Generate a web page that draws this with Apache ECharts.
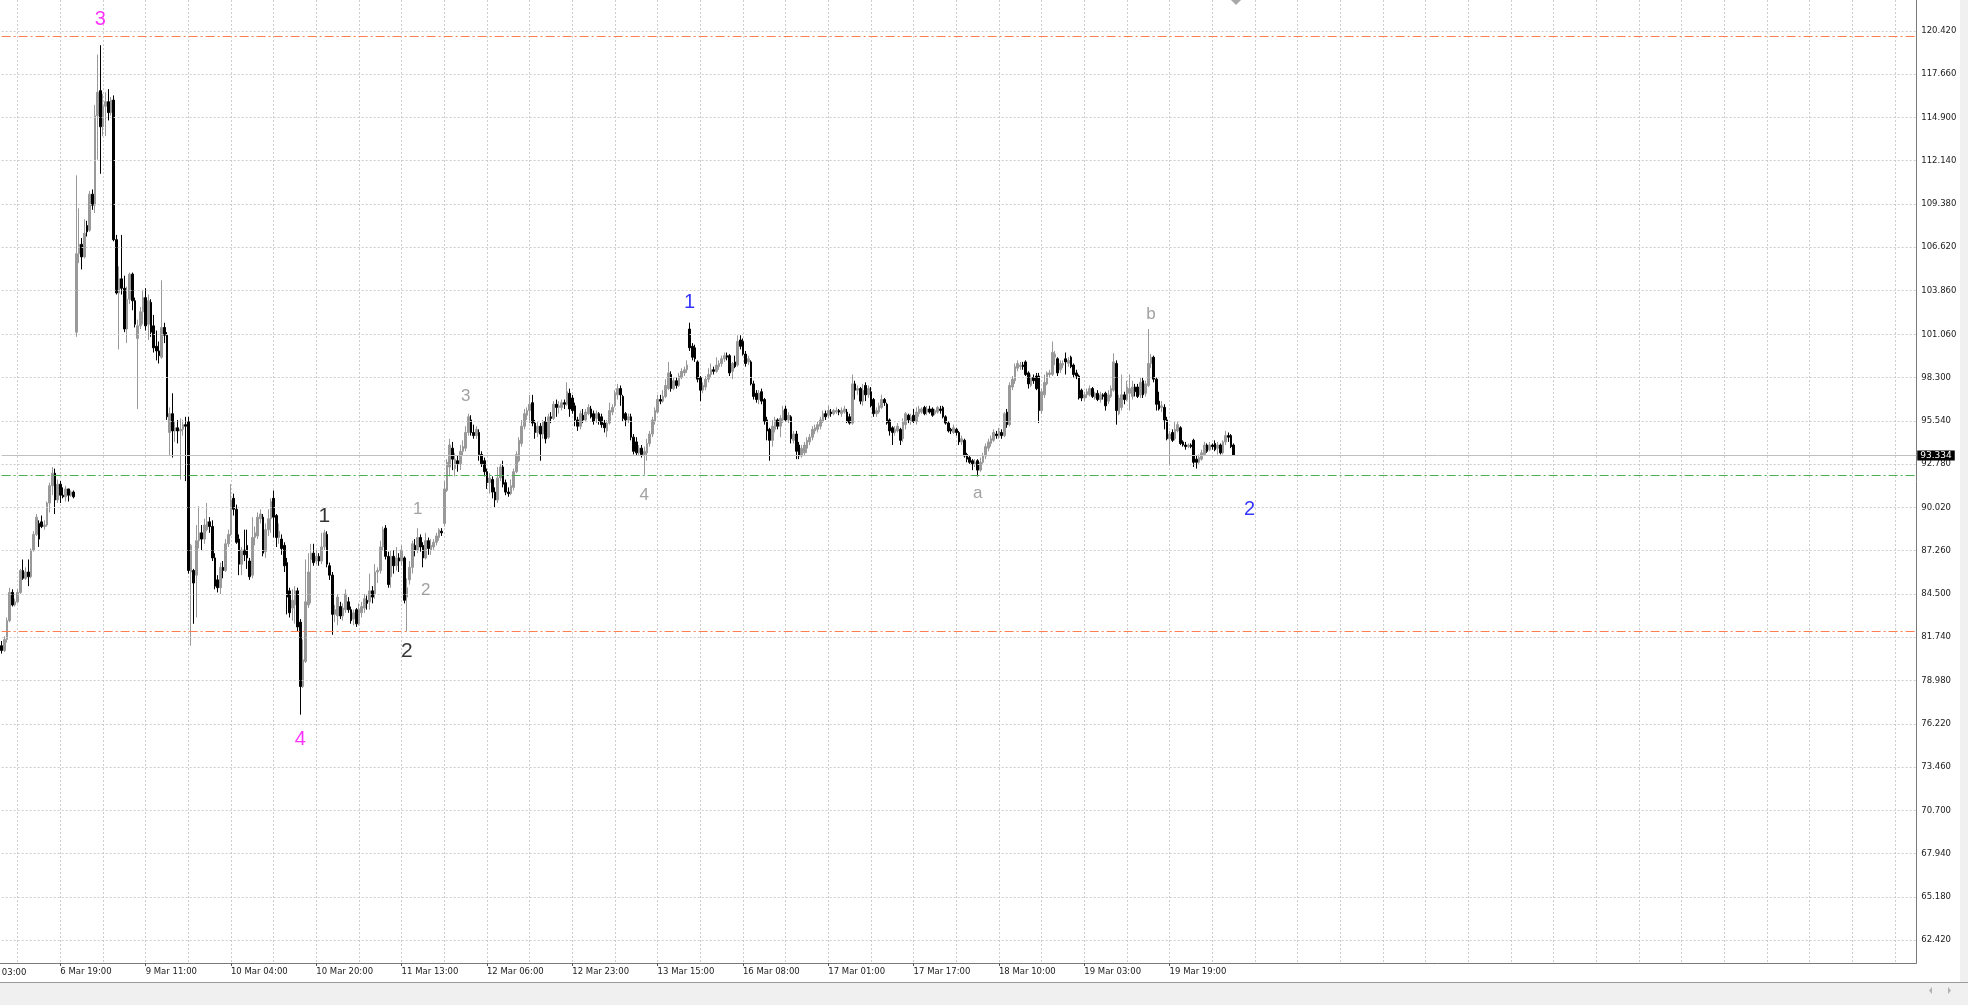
<!DOCTYPE html>
<html><head><meta charset="utf-8">
<script src="https://cdn.jsdelivr.net/npm/echarts@6/dist/echarts.min.js"></script>
<style>html,body{margin:0;padding:0;background:#fff;overflow:hidden}#c{width:1968px;height:1005px}</style>
</head><body><div id="c"></div>
<script>
// ---- tick labels ----
const xTickLabels = ['6 Mar 03:00','6 Mar 19:00','9 Mar 11:00','10 Mar 04:00','10 Mar 20:00','11 Mar 13:00','12 Mar 06:00','12 Mar 23:00','13 Mar 15:00','16 Mar 08:00','17 Mar 01:00','17 Mar 17:00','18 Mar 10:00','19 Mar 03:00','19 Mar 19:00'];
const yTickLabels = ['120.420','117.660','114.900','112.140','109.380','106.620','103.860','101.060','98.300','95.540','92.780','90.020','87.260','84.500','81.740','78.980','76.220','73.460','70.700','67.940','65.180','62.420'];
const barsPerLabel = 32;      // M30 bars between two time labels
const barsPerGridLine = 16;
const firstLabelOffset = -10; // '6 Mar 03:00' sits 10 bars before the first visible bar (6 Mar 08:00)
const slotCount = 719;        // bars + empty space on the right (chart shift)
const yMin = 60.964, yMax = 122.384;

// ---- horizontal levels ----
const orangeLevels = [120.10, 82.12];
const greenLevels = [92.07];
const lastPrice = 93.334;

// ---- M30 bars: [open, close, low, high] ----
const bars_0306_0800 = [[81.2,80.9,80.7,81.5],[80.9,81.6,80.8,81.8],[81.6,82.8,81.4,83.0],[82.8,84.6,82.7,84.9],[84.6,83.8,83.7,84.8],[83.8,84.0,83.7,84.2],[84.0,84.6,83.9,84.8],[84.6,86.0,84.5,86.1],[86.0,85.5,85.4,86.7],[85.5,85.9,85.4,86.2],[85.9,85.6,85.0,86.7],[85.6,87.3,85.5,87.4],[87.3,88.3,87.2,88.5],[88.3,89.4,88.2,89.6],[89.0,88.0,87.5,89.2],[89.1,88.8,88.7,89.5],[88.8,88.9,88.6,89.2],[88.9,90.3,88.8,90.4],[90.3,91.4,89.7,91.6],[91.4,92.2,90.8,92.6],[92.2,90.5,89.6,92.5],[90.5,91.5,90.3,91.8]];
const bars_0306_1900 = [[91.5,90.8,90.3,91.7],[90.8,90.7,90.6,91.3],[90.7,91.2,90.4,91.4],[91.2,90.8,90.4,91.2],[90.8,91.0,90.7,91.1],[91.0,90.7,90.6,91.1],[101.2,106.2,100.9,111.2],[106.2,106.8,105.6,109.1],[106.8,106.0,105.2,107.2],[106.0,107.5,105.9,108.4],[108.0,107.6,107.3,108.3],[107.7,110.0,107.6,110.2],[110.0,109.3,109.0,110.3],[109.3,115.0,108.8,115.7],[115.0,116.5,112.2,118.9],[116.6,114.3,111.3,119.5],[114.3,115.6,113.7,116.4],[115.6,115.9,113.7,116.5],[115.9,115.2,114.7,116.7],[115.2,116.0,115.0,116.2],[116.0,107.1,107.0,116.3],[107.1,103.7,103.6,107.4],[103.7,104.6,100.1,105.4],[104.6,104.0,103.6,107.4],[104.0,101.4,101.2,104.8],[101.4,103.3,100.5,104.1],[103.3,104.9,103.0,105.0],[104.9,103.2,102.6,105.0],[103.2,101.7,101.5,103.4],[100.8,101.6,96.3,102.0],[101.6,102.5,101.4,102.8],[102.5,103.4,101.7,103.9]];
const bars_0309_1100 = [[103.4,101.6,101.3,104.0],[101.7,103.2,100.7,103.6],[103.1,101.2,100.9,103.3],[101.6,100.2,99.9,102.3],[100.3,100.0,99.4,101.3],[100.0,99.7,99.2,100.6],[99.6,101.5,99.5,104.5],[101.5,101.0,100.5,101.8],[101.0,95.8,95.6,101.2],[94.8,96.0,93.3,96.4],[96.0,94.9,93.2,97.3],[94.9,95.1,94.2,95.5],[95.1,94.9,94.1,95.6],[94.9,95.0,91.8,95.7],[95.0,95.3,94.6,95.6],[95.3,95.2,91.7,95.8],[95.5,86.0,85.8,95.8],[85.9,87.6,81.2,87.7],[86.0,85.2,82.6,86.1],[85.7,87.9,83.0,88.9],[87.9,88.4,87.4,90.1],[88.4,88.0,87.3,88.9],[88.0,88.9,87.7,89.3],[88.6,89.1,88.5,90.3],[89.1,88.8,88.4,89.4],[88.8,86.8,86.6,89.2],[86.8,85.0,84.8,87.1],[85.4,84.9,84.6,85.7],[84.9,86.2,84.5,86.5],[86.2,86.0,85.5,86.6],[86.0,87.7,85.9,88.0],[87.7,88.3,87.5,88.6]];
const bars_0310_0400 = [[88.3,90.5,88.2,91.5],[90.6,89.9,89.5,90.9],[89.9,87.8,87.7,90.2],[88.0,86.4,85.7,88.3],[86.4,87.3,85.7,87.5],[87.3,87.0,86.6,88.6],[87.6,86.8,86.1,88.6],[86.6,85.6,85.4,86.8],[85.7,88.1,85.5,89.4],[88.1,88.4,87.6,88.8],[88.2,89.4,88.0,89.7],[89.3,89.6,89.0,89.9],[89.4,87.1,86.9,89.6],[87.2,88.6,86.8,89.0],[88.6,89.3,88.2,89.9],[89.3,90.4,88.4,90.6],[90.6,89.4,88.1,91.1],[89.5,88.1,87.5,89.6],[88.1,88.5,87.7,89.0],[88.0,87.4,87.0,88.3],[87.6,86.3,85.9,87.8],[86.5,84.3,83.2,86.8],[84.7,83.3,83.0,84.9],[83.6,84.1,82.8,84.8],[83.8,84.7,82.6,85.0],[84.7,82.4,82.1,84.9],[82.7,78.6,76.8,82.9],[78.6,80.3,78.5,81.6],[80.2,84.0,80.1,86.7],[83.8,85.9,83.6,87.1],[86.7,87.1,83.9,87.7],[87.1,86.5,86.3,87.7]];
const bars_0310_2000 = [[86.6,86.9,86.4,87.3],[86.9,86.6,86.3,87.1],[86.6,87.5,86.4,88.4],[87.5,88.4,87.3,88.6],[88.3,86.4,86.2,88.5],[86.3,85.7,85.4,86.5],[85.7,83.2,81.9,85.9],[83.2,83.5,82.7,83.8],[83.1,84.3,82.5,84.5],[83.7,83.1,82.9,84.0],[83.1,83.6,82.8,83.9],[83.5,84.5,83.3,84.8],[84.0,83.5,83.3,84.3],[83.5,82.8,82.6,83.7],[82.9,83.3,82.5,83.5],[83.5,82.6,82.4,83.6],[82.6,83.5,82.5,83.9],[83.3,83.7,83.0,84.0],[83.6,84.2,83.3,84.5],[84.1,83.9,83.5,84.4],[84.0,84.7,83.5,85.8],[84.7,84.3,83.9,85.0],[84.5,85.9,84.2,86.4],[85.9,86.0,85.2,86.2],[86.0,87.5,85.8,87.9],[87.5,88.6,87.3,88.8],[88.7,86.9,86.7,88.9],[86.9,85.1,84.9,87.2],[85.6,86.9,84.9,87.3],[86.9,86.3,85.8,87.3],[86.3,86.8,86.0,87.5],[86.8,86.6,85.9,87.1]];
const bars_0311_1300 = [[86.6,87.3,86.3,87.6],[86.8,84.1,83.9,86.9],[84.3,84.9,82.1,85.5],[85.4,86.2,85.1,86.6],[86.2,87.7,85.8,87.9],[87.6,87.3,86.9,88.0],[87.3,88.1,87.1,88.7],[88.1,87.5,87.2,88.3],[87.6,86.8,86.2,87.8],[86.8,87.9,86.7,88.4],[87.9,87.4,87.0,88.1],[87.3,87.6,87.0,88.0],[87.5,87.8,87.3,88.0],[87.8,88.2,87.6,88.4],[88.1,88.6,87.9,88.7],[88.5,88.4,88.2,88.7],[89.0,91.2,88.8,91.7],[91.1,92.9,91.0,93.1],[92.6,94.0,92.0,94.4],[93.8,93.1,92.4,94.2],[92.5,93.1,92.0,93.5],[93.0,92.8,92.3,93.3],[92.8,93.6,92.4,94.0],[93.6,93.9,93.3,94.3],[93.8,94.8,93.6,95.2],[94.8,95.8,94.6,96.0],[95.6,94.8,94.6,95.9],[94.8,94.6,94.4,95.3],[94.6,95.0,94.4,95.2],[94.8,93.4,93.0,95.0],[93.4,92.8,92.6,93.6],[93.0,92.3,92.0,93.2]];
const bars_0312_0600 = [[92.3,91.6,91.2,92.5],[91.6,91.9,90.9,92.2],[91.8,91.0,90.6,92.0],[91.0,90.5,90.0,91.3],[90.5,91.9,90.3,92.6],[91.9,92.6,91.7,92.8],[92.6,91.5,91.3,93.0],[91.6,91.0,90.8,91.8],[91.0,90.9,90.7,91.3],[90.9,91.4,90.8,91.8],[91.3,92.3,91.1,92.5],[92.3,93.4,92.2,93.6],[93.0,94.3,92.9,94.5],[94.1,95.2,93.9,95.6],[95.2,96.0,95.0,96.3],[95.9,96.2,95.6,96.4],[96.2,96.6,95.4,97.2],[96.7,95.4,95.2,97.2],[95.4,94.8,94.4,95.6],[94.8,95.2,94.5,95.5],[95.2,94.7,93.0,95.4],[94.7,95.5,94.4,95.6],[95.5,94.4,94.1,95.8],[94.5,95.8,94.4,96.0],[95.8,95.7,95.4,96.1],[95.7,96.6,95.6,96.8],[96.6,96.4,95.8,96.9],[96.4,96.5,96.0,96.8],[96.4,96.7,96.2,96.9],[96.7,96.6,96.3,96.9],[96.6,97.4,96.5,98.0],[97.3,96.3,95.8,97.6]];
const bars_0312_2300 = [[97.0,96.2,96.0,97.2],[96.5,95.6,95.2,96.7],[95.6,95.2,94.9,95.8],[95.2,96.0,95.0,96.2],[95.9,95.6,95.4,96.3],[95.6,96.1,95.5,96.3],[96.0,96.4,95.9,96.6],[96.3,95.8,95.7,96.5],[96.0,95.5,95.3,96.2],[95.7,96.0,95.4,96.2],[96.0,95.5,95.3,96.1],[95.8,95.3,95.1,96.0],[95.4,95.1,94.8,95.6],[94.9,95.4,94.5,95.6],[95.4,96.2,95.3,96.7],[96.1,96.4,95.9,96.6],[96.5,97.3,96.4,97.5],[97.2,97.6,96.9,97.9],[97.6,97.2,96.5,97.8],[97.1,95.7,95.5,97.2],[96.0,95.6,95.2,96.1],[95.6,95.8,95.4,96.0],[95.8,94.5,94.3,96.0],[94.5,93.6,93.4,94.7],[94.2,93.5,93.3,94.5],[93.5,93.8,93.3,94.0],[93.8,93.4,93.2,94.0],[93.4,93.6,92.1,93.9],[93.5,94.1,93.0,94.4],[94.1,94.7,93.9,94.9],[94.7,95.6,94.5,95.8],[95.5,96.2,95.3,96.4]];
const bars_0313_1500 = [[96.1,96.9,96.0,97.2],[96.9,96.8,96.6,97.2],[96.8,97.1,96.7,97.5],[97.1,97.8,97.0,98.2],[97.6,98.6,97.5,99.3],[98.5,97.6,97.4,98.7],[97.6,98.1,97.5,98.3],[98.1,97.8,97.6,98.3],[97.8,98.4,97.7,98.6],[98.3,98.7,98.2,98.9],[98.6,98.8,98.4,99.0],[98.8,99.1,98.6,99.4],[101.4,100.2,100.0,101.8],[100.3,99.6,99.4,100.5],[100.2,99.5,99.3,100.4],[99.3,98.2,98.0,99.4],[98.3,97.5,96.8,98.4],[97.5,97.8,97.3,98.0],[97.7,98.2,97.5,98.4],[98.2,98.5,98.0,98.9],[98.5,98.8,98.3,99.2],[98.8,98.7,98.5,99.0],[98.7,99.1,98.6,99.6],[99.0,99.2,98.8,99.4],[99.2,99.5,99.0,99.7],[99.5,99.7,99.3,99.9],[99.7,99.6,99.4,99.9],[99.7,98.6,98.4,99.8],[98.7,99.2,98.2,99.3],[99.3,99.0,98.9,99.7],[99.1,100.6,99.0,101.0],[100.7,100.3,100.1,101.0]];
const bars_0316_0800 = [[100.6,99.8,99.7,100.8],[99.8,99.2,99.0,100.0],[99.3,99.5,99.1,99.7],[99.3,97.9,97.8,99.4],[97.9,97.1,96.9,98.1],[97.3,96.9,96.7,97.5],[96.9,97.3,96.6,97.5],[97.4,96.8,96.6,97.6],[96.9,95.5,95.3,97.0],[95.6,94.9,94.3,95.8],[95.0,94.3,93.0,95.1],[94.3,95.2,93.9,95.6],[95.0,95.6,94.8,95.8],[95.6,95.2,95.0,95.7],[95.2,95.7,94.5,95.9],[95.6,96.2,95.4,96.5],[96.3,95.6,95.5,96.5],[95.6,95.9,95.4,96.1],[95.8,94.4,94.1,95.9],[94.3,94.7,94.1,94.9],[94.7,93.6,93.1,94.9],[94.0,93.3,93.1,94.2],[93.3,93.8,93.2,94.0],[93.5,94.0,93.3,94.2],[93.8,94.3,93.5,94.5],[94.2,94.5,94.0,94.7],[94.5,95.0,94.3,95.2],[94.9,95.1,94.7,95.3],[95.0,95.3,94.8,95.5],[95.2,95.6,95.0,95.8],[95.5,96.0,95.4,96.2],[96.0,95.8,95.6,96.2]];
const bars_0317_0100 = [[95.9,96.2,95.7,96.5],[96.1,96.0,95.8,96.3],[96.0,96.2,95.9,96.3],[96.1,96.2,96.0,96.4],[96.2,96.1,95.9,96.3],[96.0,96.2,95.8,96.4],[96.1,96.3,96.0,96.5],[96.1,95.5,95.4,96.3],[95.8,95.4,95.3,96.0],[95.4,97.9,95.3,98.5],[97.9,97.5,96.9,98.1],[97.5,97.6,97.2,97.8],[97.6,96.8,96.6,97.7],[96.8,97.5,96.5,97.9],[97.8,97.2,96.8,98.0],[97.2,97.6,97.0,97.8],[97.4,96.5,96.4,97.7],[96.9,96.0,95.8,97.0],[96.0,96.2,95.8,96.4],[96.1,96.5,96.0,96.7],[96.4,96.9,96.3,97.2],[96.9,96.7,96.5,97.0],[96.6,95.4,95.3,96.7],[95.6,94.9,94.6,95.7],[95.1,94.8,94.0,95.2],[94.8,95.0,94.6,95.2],[94.9,95.2,94.8,95.4],[95.0,94.3,94.0,95.1],[94.4,95.5,94.2,95.7],[95.3,96.0,95.0,96.1],[95.9,95.6,95.4,96.0],[95.5,95.8,95.3,96.0]];
const bars_0317_1700 = [[95.9,95.5,95.4,96.3],[95.5,96.1,95.3,96.4],[96.0,96.3,95.8,96.5],[96.1,96.3,96.0,96.4],[96.4,96.0,95.9,96.5],[96.1,96.3,95.9,96.5],[96.3,96.1,96.0,96.5],[96.3,95.9,95.8,96.4],[96.0,96.2,95.9,96.3],[96.1,96.4,96.0,96.5],[96.3,96.2,96.0,96.5],[96.4,95.8,95.7,96.5],[95.8,95.4,95.3,95.9],[95.4,94.9,94.8,95.5],[95.0,94.9,94.7,95.1],[94.8,95.1,94.7,95.3],[95.0,94.8,94.6,95.1],[94.8,94.2,94.0,94.9],[94.2,94.4,94.0,94.6],[94.3,93.3,93.2,94.4],[93.4,93.1,92.9,93.5],[93.2,92.9,92.8,93.3],[93.0,92.8,92.4,93.1],[92.8,92.9,92.6,93.1],[93.0,92.4,92.0,93.1],[92.4,92.9,92.3,93.2],[92.9,93.3,92.8,93.5],[93.3,93.9,93.1,94.1],[93.8,94.2,93.6,94.4],[94.1,94.4,93.9,94.6],[94.3,94.8,94.2,95.0],[94.7,94.6,94.4,94.9]];
const bars_0318_1000 = [[94.6,94.9,94.4,95.1],[94.8,94.6,94.4,95.0],[94.6,96.0,94.5,96.1],[96.1,95.3,95.1,96.3],[95.3,97.8,95.2,98.0],[97.7,98.2,97.5,98.4],[98.1,99.0,97.9,99.2],[98.9,99.2,98.7,99.4],[99.0,99.1,98.8,99.3],[99.1,99.0,98.8,99.3],[99.3,98.5,98.4,99.4],[98.6,97.9,97.6,98.7],[97.8,98.3,97.7,98.5],[98.3,98.1,97.9,98.5],[98.4,97.6,97.5,98.6],[98.4,96.2,95.4,98.6],[96.2,97.4,96.0,97.6],[97.2,98.0,97.0,98.5],[97.9,98.6,97.8,98.7],[98.5,98.6,98.3,98.8],[98.5,99.9,98.4,100.6],[99.6,99.8,99.1,100.0],[99.5,98.6,98.4,99.6],[98.8,99.2,98.6,99.4],[99.1,99.2,98.9,99.4],[99.5,99.3,98.5,99.9],[99.2,99.4,99.0,99.6],[99.6,99.0,98.9,99.7],[99.1,98.5,98.3,99.2],[98.6,98.4,98.2,98.8],[98.4,97.0,96.9,98.5],[97.5,97.0,96.8,97.6]];
const bars_0319_0300 = [[97.0,97.2,96.8,97.4],[97.2,97.4,97.0,97.6],[97.2,97.6,97.1,97.8],[97.6,97.1,97.0,97.7],[97.0,97.3,96.9,97.4],[97.3,96.9,96.8,97.5],[96.9,97.2,96.7,97.4],[97.2,97.1,96.9,97.3],[97.3,96.5,96.2,97.4],[96.8,97.2,96.6,97.5],[97.1,97.6,97.0,97.8],[97.5,99.3,97.4,99.85],[99.2,96.2,95.3,99.4],[96.0,97.0,95.9,97.2],[96.4,97.2,96.2,98.5],[97.2,96.9,96.6,97.4],[96.9,97.7,96.8,98.1],[97.3,97.6,96.2,98.5],[97.1,97.7,96.9,98.1],[97.7,97.4,97.1,97.9],[97.7,97.1,97.0,97.9],[97.2,98.0,97.0,98.3],[98.1,97.2,97.0,98.3],[97.3,97.9,97.1,98.1],[97.8,99.2,97.7,101.4],[99.2,99.6,98.9,99.8],[99.6,98.2,98.0,99.7],[98.2,96.6,96.2,98.3],[96.8,96.3,96.2,97.4],[96.4,96.5,96.1,96.8],[96.4,95.6,95.0,96.6],[95.6,94.4,94.3,95.8]];
const bars_0319_1900 = [[94.4,94.7,92.7,94.9],[94.8,94.3,94.2,95.0],[94.4,95.0,94.3,95.5],[94.9,95.3,94.8,95.5],[95.1,94.1,94.0,95.2],[94.2,94.0,93.9,94.3],[94.0,93.9,93.7,94.2],[93.9,94.0,93.8,94.1],[94.0,93.9,93.8,94.1],[94.3,92.9,92.6,94.4],[93.1,92.9,92.5,93.3],[92.9,93.2,92.8,93.4],[93.1,93.5,93.0,93.7],[93.4,94.0,93.3,94.2],[94.0,93.6,93.5,94.1],[93.7,94.0,93.6,94.2],[94.0,93.9,93.7,94.1],[94.1,93.7,93.6,94.3],[93.8,94.0,93.4,94.2],[94.0,93.5,93.4,94.1],[93.5,94.2,93.4,94.3],[94.2,94.6,94.0,94.9],[94.6,94.5,94.2,94.8],[94.6,93.9,93.8,94.7],[94.0,93.334,93.3,94.1]];

// ---- Elliott wave annotations (bar index, price) ----
const waveLabels = [
  {text:'3', bar:37,  price:121.15, degree:'primary'},
  {text:'4', bar:112, price:75.23,  degree:'primary'},
  {text:'1', bar:121, price:89.43,  degree:'intermediate'},
  {text:'2', bar:152, price:80.86,  degree:'intermediate'},
  {text:'1', bar:156, price:89.92,  degree:'minor'},
  {text:'2', bar:159, price:84.75,  degree:'minor'},
  {text:'3', bar:174, price:97.13,  degree:'minor'},
  {text:'4', bar:241, price:90.81,  degree:'minor'},
  {text:'1', bar:258, price:103.09, degree:'minute'},
  {text:'a', bar:366, price:90.94,  degree:'minor'},
  {text:'b', bar:431, price:102.31, degree:'minor'},
  {text:'2', bar:468, price:89.88,  degree:'minute'}
];

// ---------------- build ----------------
const bars = [].concat(bars_0306_0800, bars_0306_1900, bars_0309_1100, bars_0310_0400, bars_0310_2000,
  bars_0311_1300, bars_0312_0600, bars_0312_2300, bars_0313_1500, bars_0316_0800, bars_0317_0100,
  bars_0317_1700, bars_0318_1000, bars_0319_0300, bars_0319_1900);
const slots = [];
for (let i = 0; i < slotCount; i++) slots.push(String(i));
const candleData = bars.map((b, k) => [k, b[0], b[1], b[2], b[3]]);
const labelIndexOf = (i) => (i - firstLabelOffset) / barsPerLabel;
const isLabelSlot = (i) => Number.isInteger(labelIndexOf(i)) && labelIndexOf(i) < xTickLabels.length;
const isGridSlot = (i) => (i - firstLabelOffset) % barsPerGridLine === 0;

const degreeStyle = {
  primary:      {color:'#ff00ff', fontSize:20},
  intermediate: {color:'#000000', fontSize:21},
  minor:        {color:'#8a8a8a', fontSize:17},
  minute:       {color:'#0000ff', fontSize:20}
};
const waveData = waveLabels.map(w => ({
  value:[w.bar, w.price],
  label:{formatter:w.text, color:degreeStyle[w.degree].color, fontSize:degreeStyle[w.degree].fontSize}
}));

const AX_FONT = 'DejaVu Sans';
const AX_SIZE = 8.5;
const W = 1968, H = 1005;
const gridLeft = 1.63, gridRight = 51.73, gridTop = 0, gridBottom = 42;
const slotWidth = (W - gridLeft - gridRight) / (slotCount - 1);

const gridLineData = yTickLabels.map(t => ({yAxis: parseFloat(t), label:{formatter:t}}));
const levelData = []
  .concat(orangeLevels.map(v => ({yAxis:v, lineStyle:{color:'#ff7f50', type:[9,3,2,3], width:1}})))
  .concat(greenLevels.map(v => ({yAxis:v, lineStyle:{color:'#4caf50', type:[9,3,2,3], width:1}})))
  .concat([{yAxis:lastPrice, lineStyle:{color:'#c0c0c0', type:'solid', width:1},
    label:{show:true, position:'end', distance:1, formatter:lastPrice.toFixed(3), color:'#ffffff',
      backgroundColor:'#000000', padding:[1,3,0,3], fontFamily:AX_FONT, fontSize:AX_SIZE+0.5}}]);

const chart = echarts.init(document.getElementById('c'), null, {renderer:'canvas', width:W, height:H});
chart.setOption({
  animation:false,
  backgroundColor:'#ffffff',
  grid:{left:gridLeft, right:gridRight, top:gridTop, bottom:gridBottom, containLabel:false},
  xAxis:{
    type:'category', data:slots, boundaryGap:false,
    axisLine:{show:true, onZero:false, lineStyle:{color:'#7a7a7a', width:1}},
    axisTick:{show:true, interval:(i)=>isLabelSlot(i), length:3, lineStyle:{color:'#555'}},
    axisLabel:{interval:(i)=>isLabelSlot(i), formatter:(v,i)=>xTickLabels[labelIndexOf(i)] || '',
      align:'left', margin:4, color:'#1a1a1a', fontFamily:AX_FONT, fontSize:AX_SIZE},
    splitLine:{show:true, interval:(i)=>isGridSlot(i), lineStyle:{color:'#cdcdcd', type:[2,2], width:1}}
  },
  yAxis:{
    type:'value', position:'right', min:yMin, max:yMax,
    axisLine:{show:true, onZero:false, lineStyle:{color:'#7a7a7a', width:1}},
    axisTick:{show:false}, axisLabel:{show:false}, splitLine:{show:false}
  },
  series:[
    {
      type:'line', data:[], silent:true, z:1,
      markLine:{silent:true, symbol:['none','none'], animation:false,
        lineStyle:{color:'#cdcdcd', type:[2,2], width:1},
        label:{show:true, position:'end', distance:5, color:'#1a1a1a', fontFamily:AX_FONT, fontSize:AX_SIZE},
        emphasis:{disabled:true},
        data:gridLineData}
    },
    {
      type:'line', data:[], silent:true, z:1.5,
      markLine:{silent:true, symbol:['none','none'], animation:false,
        label:{show:false}, emphasis:{disabled:true},
        data:levelData}
    },
    {
      type:'candlestick', data:candleData, encode:{x:0, y:[1,2,3,4]}, z:3, clip:false,
      barWidth:2, silent:true,
      itemStyle:{color:'#999999', color0:'#000000', borderColor:'#999999', borderColor0:'#000000', borderWidth:1}
    },
    {
      type:'scatter', data:waveData, symbolSize:0, silent:true, z:5, clip:false,
      label:{show:true, position:'inside', fontFamily:'Liberation Sans'}
    }
  ],
  graphic:[
    // first time label lies left of the visible area: only its tail is seen
    {type:'text', x:gridLeft + firstLabelOffset * slotWidth, y:(H - gridBottom) + 4 + 1, silent:true,
      style:{text:xTickLabels[0], fill:'#1a1a1a', font:AX_SIZE + 'px "' + AX_FONT + '"', textAlign:'left', textVerticalAlign:'top'}},
    {type:'line', shape:{x1:0, y1:H-gridBottom+0.5, x2:gridLeft, y2:H-gridBottom+0.5}, style:{stroke:'#7a7a7a', lineWidth:1}, silent:true},
    {type:'rect', shape:{x:0, y:982, width:W, height:23}, style:{fill:'#f0f0f0'}, silent:true},
    {type:'line', shape:{x1:0, y1:982.5, x2:W, y2:982.5}, style:{stroke:'#9a9a9a', lineWidth:1}, silent:true},
    {type:'rect', shape:{x:1960, y:0, width:8, height:982}, style:{fill:'#f0f0f0'}, silent:true},
    {type:'polygon', shape:{points:[[1231,0],[1241,0],[1236,5]]}, style:{fill:'#a8a8a8'}, silent:true},
    {type:'polygon', shape:{points:[[1932,987],[1932,994],[1929,990.5]]}, style:{fill:'#b0b0b0'}, silent:true},
    {type:'polygon', shape:{points:[[1948,987],[1948,994],[1951,990.5]]}, style:{fill:'#b0b0b0'}, silent:true}
  ]
});
</script>
</body></html>
